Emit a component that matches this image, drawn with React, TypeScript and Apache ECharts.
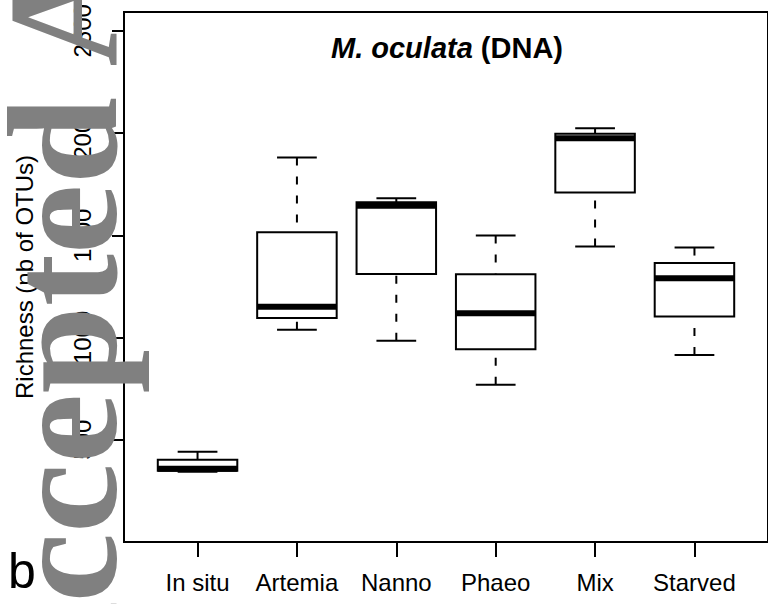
import React, { useEffect, useRef } from "react";
import * as echarts from "echarts";

const categories = ["In situ", "Artemia", "Nanno", "Phaeo", "Mix", "Starved"];
const mins = [344, 1038, 984, 769, 1445, 915];
const q1s = [348, 1095, 1311, 943, 1709, 1103];
const medians = [358, 1150, 1645, 1119, 1975, 1290];
const q3s = [402, 1515, 1662, 1310, 1996, 1364];
const maxs = [441, 1880, 1681, 1499, 2024, 1440];
const yTicks = [500, 1000, 1500, 2000, 2500];
const xPositions = [1, 2, 3, 4, 5, 6];

const SANS = "Liberation Sans, Arial, Helvetica, sans-serif";
const SERIF = "'Liberation Serif', 'Times New Roman', serif";

export default function App() {
  const ref = useRef<HTMLDivElement>(null);
  useEffect(() => {
    if (!ref.current) return;
    const chart = echarts.init(ref.current, null, { renderer: "svg" });
    const data = categories.map((_, i) => [
      xPositions[i],
      mins[i],
      q1s[i],
      medians[i],
      q3s[i],
      maxs[i],
    ]);
    const option: any = {
      animation: false,
      backgroundColor: "#fff",
      grid: {
        left: 124,
        top: 12,
        width: 647,
        height: 530,
        show: true,
        borderColor: "#000",
        borderWidth: 2,
        backgroundColor: "transparent",
        containLabel: false,
      },
      xAxis: {
        type: "value",
        min: 0.26,
        max: 6.74,
        axisLine: { show: false, onZero: false },
        splitLine: { show: false },
        axisTick: {
          show: true,
          customValues: xPositions,
          length: 15,
          lineStyle: { color: "#000", width: 2 },
        },
        axisLabel: {
          customValues: xPositions,
          formatter: (v: number) => categories[Math.round(v) - 1] ?? "",
          fontSize: 24,
          fontFamily: SANS,
          color: "#000",
          margin: 28,
        },
      },
      yAxis: {
        type: "value",
        min: 0,
        max: 2592,
        name: "Richness (nb of OTUs)",
        nameLocation: "middle",
        nameRotate: 90,
        nameGap: 88,
        nameTextStyle: { fontSize: 24, fontFamily: SANS, color: "#000" },
        axisLine: { show: false, onZero: false },
        splitLine: { show: false },
        axisTick: {
          show: true,
          customValues: yTicks,
          length: 12,
          lineStyle: { color: "#000", width: 2 },
        },
        axisLabel: {
          customValues: yTicks,
          formatter: (v: number) => String(Math.round(v)),
          rotate: 90,
          fontSize: 24,
          fontFamily: SANS,
          color: "#000",
          margin: 30,
        },
      },
      series: [
        {
          type: "custom",
          data,
          encode: { x: 0, y: [1, 2, 3, 4, 5] },
          renderItem: (params: any, api: any) => {
            const x = api.value(0);
            const pMin = api.coord([x, api.value(1)]);
            const pQ1 = api.coord([x, api.value(2)]);
            const pMed = api.coord([x, api.value(3)]);
            const pQ3 = api.coord([x, api.value(4)]);
            const pMax = api.coord([x, api.value(5)]);
            const cx = pMin[0];
            const halfBox = api.size([0.8, 0])[0] / 2;
            const halfCap = api.size([0.4, 0])[0] / 2;
            const stroke = { stroke: "#000", lineWidth: 2 };
            return {
              type: "group",
              children: [
                {
                  type: "line",
                  shape: { x1: cx, y1: pMax[1], x2: cx, y2: pQ3[1] },
                  style: { ...stroke, lineDash: [8, 11] },
                },
                {
                  type: "line",
                  shape: { x1: cx, y1: pMin[1], x2: cx, y2: pQ1[1] },
                  style: { ...stroke, lineDash: [8, 11] },
                },
                {
                  type: "line",
                  shape: { x1: cx - halfCap, y1: pMax[1], x2: cx + halfCap, y2: pMax[1] },
                  style: stroke,
                },
                {
                  type: "line",
                  shape: { x1: cx - halfCap, y1: pMin[1], x2: cx + halfCap, y2: pMin[1] },
                  style: stroke,
                },
                {
                  type: "rect",
                  shape: {
                    x: cx - halfBox,
                    y: pQ3[1],
                    width: halfBox * 2,
                    height: pQ1[1] - pQ3[1],
                  },
                  style: { fill: "#fff", ...stroke },
                },
                {
                  type: "line",
                  shape: { x1: cx - halfBox, y1: pMed[1], x2: cx + halfBox, y2: pMed[1] },
                  style: { stroke: "#000", lineWidth: 6 },
                },
              ],
            };
          },
        },
      ],
      graphic: [
        {
          type: "text",
          x: 447,
          y: 48,
          z: 50,
          style: {
            text: "{i|M. oculata}{b| (DNA)}",
            align: "center",
            verticalAlign: "middle",
            rich: {
              i: {
                fontSize: 29,
                fontWeight: "bold",
                fontStyle: "italic",
                fontFamily: SANS,
                fill: "#000",
              },
              b: {
                fontSize: 29,
                fontWeight: "bold",
                fontFamily: SANS,
                fill: "#000",
              },
            },
          },
        },
        {
          type: "text",
          x: 8,
          y: 571,
          z: 50,
          style: {
            text: "b",
            fontSize: 50,
            fontFamily: SANS,
            fill: "#000",
            align: "left",
            verticalAlign: "middle",
          },
        },
        {
          type: "text",
          x: 63,
          y: 716,
          rotation: Math.PI / 2,
          z: 100,
          style: {
            text: "Accepted Article",
            fontSize: 157,
            fontWeight: "bold",
            fontFamily: SERIF,
            fill: "#808080",
            align: "left",
            verticalAlign: "middle",
          },
        },
      ],
    };
    chart.setOption(option);
    return () => chart.dispose();
  }, []);
  return (
    <div
      ref={ref}
      style={{ position: "absolute", left: 0, top: 0, width: 768, height: 604 }}
    />
  );
}
